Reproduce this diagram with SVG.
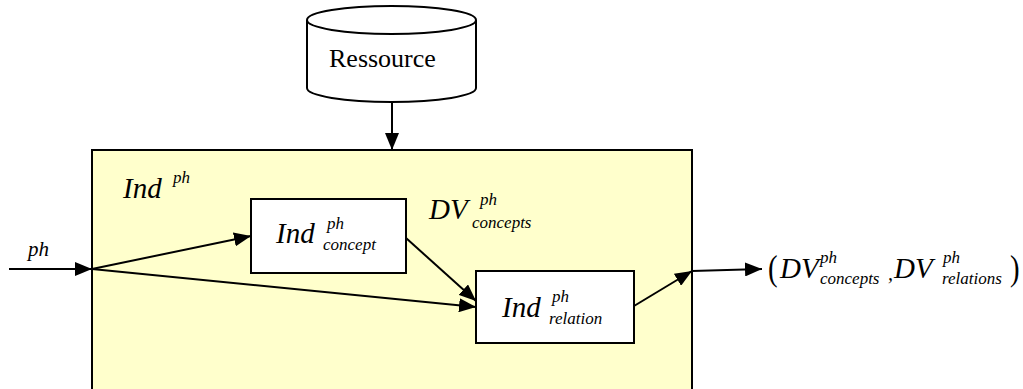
<svg xmlns="http://www.w3.org/2000/svg" width="1023" height="389" viewBox="0 0 1023 389">
<style>
.ln{stroke:#000;stroke-width:2;fill:none}
.bx{fill:#fff;stroke:#000;stroke-width:2}
.t{font-family:'Liberation Serif','Times New Roman',serif;fill:#000}
.i{font-style:italic}
.big{font-size:29px}
.sm{font-size:17px}
</style>
<defs>
<marker id="ah" markerUnits="userSpaceOnUse" markerWidth="18" markerHeight="14" refX="17" refY="7" orient="auto">
<path d="M0,0 L17,7 L0,14 z" fill="#000"/>
</marker>
</defs>
<rect width="1023" height="389" fill="#fff"/>
<g id="main">
<rect x="92" y="150" width="600" height="250" fill="#ffffcc" stroke="#000" stroke-width="2"/>
<text class="t i big" x="123" y="198">Ind</text>
<text class="t i sm" x="173" y="183">ph</text>
</g>
<g id="ressource">
<path d="M307,20 L307,88 A84.5,14 0 0 0 476,88 L476,20" fill="#fff" stroke="#000" stroke-width="2"/>
<ellipse cx="391.5" cy="20" rx="84.5" ry="14" fill="#fff" stroke="#000" stroke-width="2"/>
<text class="t" x="329" y="67" font-size="26">Ressource</text>
</g>
<g id="ind-concept">
<rect class="bx" x="251" y="199" width="155" height="74"/>
<text class="t i big" x="276" y="243">Ind</text>
<text class="t i sm" x="327" y="229">ph</text>
<text class="t i sm" x="323" y="250">concept</text>
</g>
<g id="ind-relation">
<rect class="bx" x="476" y="271" width="158" height="72"/>
<text class="t i big" x="502" y="317">Ind</text>
<text class="t i sm" x="552" y="302">ph</text>
<text class="t i sm" x="549" y="324">relation</text>
</g>
<g id="dv-concepts">
<text class="t i big" x="429" y="219">DV</text>
<text class="t i sm" x="480" y="205">ph</text>
<text class="t i sm" x="472" y="228">concepts</text>
</g>
<g id="input-label">
<text class="t i" x="28" y="256" font-size="21">ph</text>
</g>
<g id="output">
<text class="t" x="768" y="280" font-size="36" transform="translate(768,280) scale(0.8,1) translate(-768,-280)">(</text>
<text class="t i big" x="780" y="278">DV</text>
<text class="t i sm" x="820" y="263">ph</text>
<text class="t i sm" x="820" y="284">concepts</text>
<text class="t i" x="888" y="280" font-size="20">,</text>
<text class="t i big" x="894" y="278">DV</text>
<text class="t i sm" x="943" y="263">ph</text>
<text class="t i sm" x="942" y="284">relations</text>
<text class="t" x="1010" y="280" font-size="36" transform="translate(1010,280) scale(0.8,1) translate(-1010,-280)">)</text>
</g>
<g id="connectors">
<line class="ln" x1="392" y1="102" x2="392" y2="150" marker-end="url(#ah)"/>
<line class="ln" x1="9" y1="269" x2="92" y2="269" marker-end="url(#ah)"/>
<line class="ln" x1="92" y1="269" x2="251" y2="236" marker-end="url(#ah)"/>
<line class="ln" x1="92" y1="269" x2="476" y2="307" marker-end="url(#ah)"/>
<line class="ln" x1="406" y1="238" x2="476" y2="301" marker-end="url(#ah)"/>
<line class="ln" x1="634" y1="306" x2="692" y2="271" marker-end="url(#ah)"/>
<line class="ln" x1="692" y1="271" x2="762" y2="269" marker-end="url(#ah)"/>
</g>
</svg>
